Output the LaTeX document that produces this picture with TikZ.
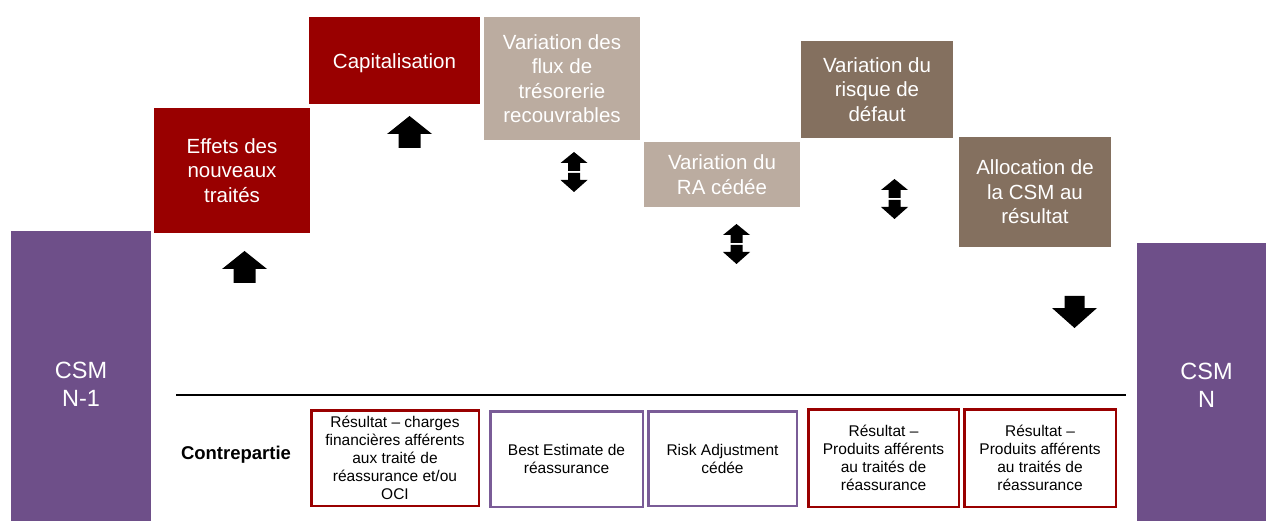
\documentclass[tikz,border=0pt]{standalone}
\usepackage{fontspec}
\setmainfont{Liberation Sans}
\definecolor{dred}{HTML}{990000}
\definecolor{purp}{HTML}{6E4F89}
\definecolor{purpline}{HTML}{7A5C97}
\definecolor{beige}{HTML}{BBACA0}
\definecolor{brown}{HTML}{84705F}
\begin{document}
\begin{tikzpicture}[x=1pt,y=-1pt,
  topbox/.style={rectangle, inner sep=0pt, align=center, text=white,
    font=\fontsize{20.5}{24.5}\selectfont},
  csmbox/.style={rectangle, inner sep=0pt, align=center, text=white, fill=purp,
    font=\fontsize{23.5}{28}\selectfont},
  cpbox/.style={rectangle, inner sep=0pt, align=center, text=black, fill=white,
    line width=2.5pt, font=\fontsize{15.5}{18}\selectfont},
  uparrow/.pic={\fill[black] (0,0) -- (22.5,18) -- (11,18) -- (11,32) -- (-11,32) -- (-11,18) -- (-22.5,18) -- cycle;},
  downarrow/.pic={\fill[black] (-10,0) -- (10,0) -- (10,12) -- (22.5,12) -- (0,32) -- (-22.5,12) -- (-10,12) -- cycle;},
  updown/.pic={\fill[black] (0,0) -- (13.5,11) -- (6,11) -- (6,19) -- (-6,19) -- (-6,11) -- (-13.5,11) -- cycle;
    \fill[black] (-6,21) -- (6,21) -- (6,28) -- (13.5,28) -- (0,40) -- (-13.5,28) -- (-6,28) -- cycle;}
]
\useasboundingbox (0,0) rectangle (1266,521);
\fill[white] (0,0) rectangle (1266,521);

% CSM columns
\node[csmbox, minimum width=140pt, minimum height=306pt] (csm1) at (81,384) {CSM\\N-1};
\node[csmbox, minimum width=139pt, minimum height=285pt] (csm2) at (1206.5,385.5) {CSM\\N};

% top boxes
\node[topbox, fill=dred, minimum width=156pt, minimum height=125pt] (effets) at (232,170.5) {Effets des\\nouveaux\\traités};
\node[topbox, fill=dred, minimum width=171pt, minimum height=87pt] (capital) at (394.5,60.5) {\raisebox{-3pt}[\height][\depth]{Capitalisation}};
\node[topbox, fill=beige, minimum width=156pt, minimum height=123pt] (flux) at (562,78.5) {Variation des\\flux de\\trésorerie\\recouvrables};
\node[topbox, fill=beige, minimum width=156pt, minimum height=65pt] (ra) at (722,174.5) {Variation du\\RA cédée};
\node[topbox, fill=brown, minimum width=152pt, minimum height=97pt] (risque) at (877,89.5) {Variation du\\risque de\\défaut};
\node[topbox, fill=brown, minimum width=152pt, minimum height=110pt] (alloc) at (1035,192) {Allocation de\\la CSM au\\résultat};

% block arrows
\pic at (244.5,251) {uparrow};
\pic at (409.5,116) {uparrow};
\pic at (574,152) {updown};
\pic at (736.5,224) {updown};
\pic at (894.5,179) {updown};
\pic at (1074.5,296) {downarrow};

% separator line
\coordinate (lineL) at (176,395);
\coordinate (lineR) at (1126,395);
\draw[line width=1.2pt] (lineL) -- (lineR);

% contrepartie
\node[font=\bfseries\fontsize{18.5}{22}\selectfont, inner sep=0pt] (contre) at (236,455) {Contrepartie};

\node[cpbox, draw=dred, minimum width=167.5pt, minimum height=95.5pt] (cp1) at (395,458) {Résultat – charges\\financières afférents\\aux traité de\\réassurance et/ou\\OCI};
\node[cpbox, draw=purpline, minimum width=152.5pt, minimum height=95.5pt] (cp2) at (566.5,459) {Best Estimate de\\réassurance};
\node[cpbox, draw=purpline, minimum width=148.5pt, minimum height=94.5pt] (cp3) at (722.5,458.5) {Risk Adjustment\\cédée};
\node[cpbox, draw=dred, minimum width=150.5pt, minimum height=97.5pt] (cp4) at (883.5,458) {Résultat –\\Produits afférents\\au traités de\\réassurance};
\node[cpbox, draw=dred, minimum width=151.5pt, minimum height=97.5pt] (cp5) at (1040,458) {Résultat –\\Produits afférents\\au traités de\\réassurance};
\end{tikzpicture}
\end{document}
